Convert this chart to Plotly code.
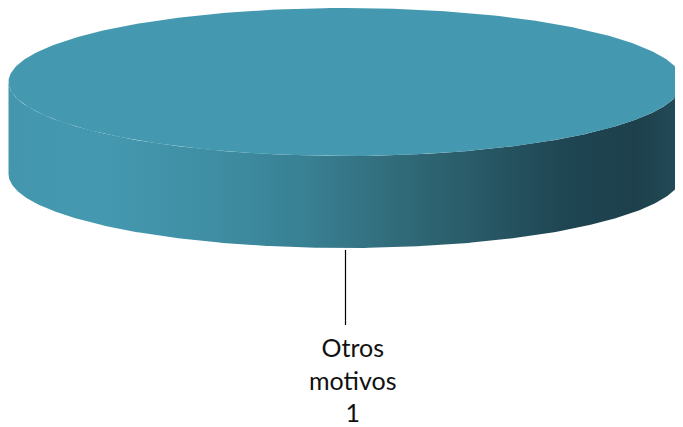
import numpy as np
import plotly.graph_objects as go

# ---- data ----
labels = ["Otros motivos"]
values = [1]

# ---- geometry / style ----
W, H = 683, 427
OFF = 8  # page body margin compensation
CX, CY = 345.5, 82.0
RX, RY = 337.0, 74.0
DEPTH = 92.0
TOP_COLOR = "#4499B0"
SIDE_SCALE = [
    [0.00, "#4396ad"],
    [0.14, "#4499b0"],
    [0.30, "#3f8ea3"],
    [0.45, "#387f92"],
    [0.55, "#336f7e"],
    [0.68, "#2a5c69"],
    [0.82, "#1f4653"],
    [0.93, "#1d404c"],
    [1.00, "#234c58"],
]

total = sum(values)
fig = go.Figure()

start = -np.pi / 2
for lab, val in zip(labels, values):
    frac = val / total
    a0, a1 = start, start + 2 * np.pi * frac
    t = np.linspace(a0, a1, 400)
    xs = CX + RX * np.cos(t)
    ys = CY + RY * np.sin(t)
    if frac < 1:
        xs = np.concatenate([[CX], xs, [CX]])
        ys = np.concatenate([[CY], ys, [CY]])
    ts = np.linspace(0, np.pi, 300)
    sx_top = CX + RX * np.cos(ts)
    sy_top = CY + RY * np.sin(ts)
    sx = np.concatenate([sx_top, sx_top[::-1]])
    sy = np.concatenate([sy_top, (sy_top + DEPTH)[::-1]])
    fig.add_trace(go.Scatter(
        x=sx, y=sy, mode="lines", fill="toself", line=dict(width=0),
        fillgradient=dict(type="horizontal", colorscale=SIDE_SCALE),
        hoverinfo="skip", showlegend=False))
    fig.add_trace(go.Scatter(
        x=xs, y=ys, mode="lines", fill="toself", line=dict(width=0),
        fillcolor=TOP_COLOR, hoverinfo="skip", showlegend=False))
    mid = (a0 + a1) / 2 if frac < 1 else np.pi / 2
    bx = CX + RX * np.cos(mid)
    by = CY + RY * np.sin(mid) + DEPTH + 2
    fig.add_trace(go.Scatter(
        x=[bx, bx], y=[by, by + 75], mode="lines",
        line=dict(color="black", width=1.2), hoverinfo="skip", showlegend=False))
    fig.add_annotation(
        x=bx + 7, y=by + 80, xref="x", yref="y", yanchor="top", xanchor="center",
        text=lab.replace(" ", "<br>") + "<br>" + str(val), showarrow=False,
        align="center", font=dict(family="Lato, Open Sans, sans-serif", size=25, color="#111111"))
    start = a1

fig.update_layout(
    width=W - OFF, height=H - OFF, margin=dict(l=0, r=0, t=0, b=0),
    paper_bgcolor="white", plot_bgcolor="white",
    xaxis=dict(range=[OFF, W], visible=False, fixedrange=True),
    yaxis=dict(range=[H, OFF], visible=False, fixedrange=True),
)
fig.write_html("out.html")
